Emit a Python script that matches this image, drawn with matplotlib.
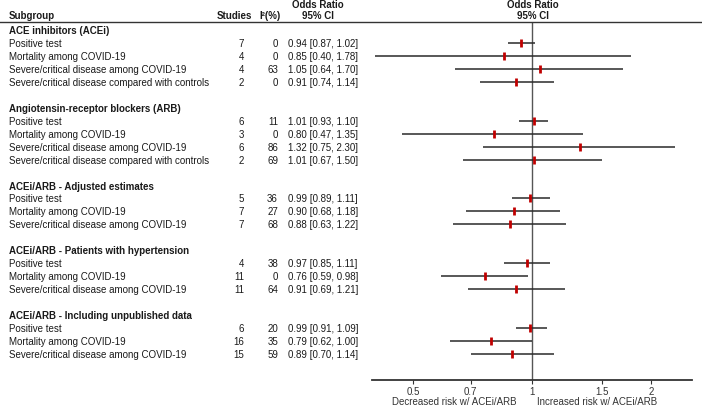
import matplotlib
matplotlib.use("Agg")
import matplotlib.pyplot as plt
import matplotlib.transforms as mtransforms

plt.rcParams['font.family'] = ['Liberation Sans', 'DejaVu Sans']

groups = [
    "ACE inhibitors (ACEi)",
    "Angiotensin-receptor blockers (ARB)",
    "ACEi/ARB - Adjusted estimates",
    "ACEi/ARB - Patients with hypertension",
    "ACEi/ARB - Including unpublished data",
]
labels = [
    ["Positive test", "Mortality among COVID-19", "Severe/critical disease among COVID-19",
     "Severe/critical disease compared with controls"],
    ["Positive test", "Mortality among COVID-19", "Severe/critical disease among COVID-19",
     "Severe/critical disease compared with controls"],
    ["Positive test", "Mortality among COVID-19", "Severe/critical disease among COVID-19"],
    ["Positive test", "Mortality among COVID-19", "Severe/critical disease among COVID-19"],
    ["Positive test", "Mortality among COVID-19", "Severe/critical disease among COVID-19"],
]
studies = [[7, 4, 4, 2], [6, 3, 6, 2], [5, 7, 7], [4, 11, 11], [6, 16, 15]]
i2 = [[0, 0, 63, 0], [11, 0, 86, 69], [36, 27, 68], [38, 0, 64], [20, 35, 59]]
odds = [[0.94, 0.85, 1.05, 0.91], [1.01, 0.80, 1.32, 1.01], [0.99, 0.90, 0.88],
        [0.97, 0.76, 0.91], [0.99, 0.79, 0.89]]
lower = [[0.87, 0.40, 0.64, 0.74], [0.93, 0.47, 0.75, 0.67], [0.89, 0.68, 0.63],
         [0.85, 0.59, 0.69], [0.91, 0.62, 0.70]]
upper = [[1.02, 1.78, 1.70, 1.14], [1.10, 1.35, 2.30, 1.50], [1.11, 1.18, 1.22],
         [1.11, 0.98, 1.21], [1.09, 1.00, 1.14]]
ticks = [0.5, 0.7, 1, 1.5, 2]
tick_labels = ["0.5", "0.7", "1", "1.5", "2"]

W, H = 702, 406
fig = plt.figure(figsize=(W / 100, H / 100), dpi=100)
ax = fig.add_axes([372 / W, (H - 381) / H, 320 / W, (381 - 22.5) / H])
ax.set_xscale('log')
ax.set_xlim(0.394, 2.54)
ax.set_ylim(27, -0.65)

trans = mtransforms.blended_transform_factory(fig.transFigure, ax.transData)
fs = 7
txt = '#1a1a1a'

row = 0
for g in range(len(groups)):
    fig.text(9 / W, row, groups[g], transform=trans, fontsize=fs, fontweight='bold',
             va='center', ha='left', color=txt)
    row += 1
    for k in range(len(labels[g])):
        fig.text(9 / W, row, labels[g][k], transform=trans, fontsize=fs, va='center', color=txt)
        fig.text(244 / W, row, str(studies[g][k]), transform=trans, fontsize=fs,
                 va='center', ha='right', color=txt)
        fig.text(278 / W, row, str(i2[g][k]), transform=trans, fontsize=fs,
                 va='center', ha='right', color=txt)
        fig.text(288 / W, row, f"{odds[g][k]:.2f} [{lower[g][k]:.2f}, {upper[g][k]:.2f}]",
                 transform=trans, fontsize=fs, va='center', ha='left', color=txt)
        ax.plot([lower[g][k], upper[g][k]], [row, row], color='#2a2a2a', lw=1.1,
                solid_capstyle='butt', zorder=2)
        ax.plot([odds[g][k]], [row], marker='|', color='#c00000', markersize=6,
                mew=2, zorder=3)
        row += 1
    row += 1

ax.axvline(1, color='#555555', lw=1, zorder=1)

# headers
fig.text(9 / W, 1 - 16 / H, "Subgroup", fontsize=fs, fontweight='bold', va='center', color=txt)
fig.text(234 / W, 1 - 16 / H, "Studies", fontsize=fs, fontweight='bold', va='center',
         ha='center', color=txt)
fig.text(270 / W, 1 - 16 / H, "I²(%)", fontsize=fs, fontweight='bold', va='center',
         ha='center', color=txt)
for cx in (318, 533):
    fig.text(cx / W, 1 - 5 / H, "Odds Ratio", fontsize=fs, fontweight='bold', va='center',
             ha='center', color=txt)
    fig.text(cx / W, 1 - 16 / H, "95% CI", fontsize=fs, fontweight='bold', va='center',
             ha='center', color=txt)
fig.add_artist(plt.Line2D([0, 1], [1 - 22.5 / H, 1 - 22.5 / H], transform=fig.transFigure,
                          color='#333333', lw=1))

for s in ['top', 'left', 'right']:
    ax.spines[s].set_visible(False)
ax.spines['bottom'].set_linewidth(1.3)
ax.spines['bottom'].set_color('#333333')
ax.set_yticks([])
ax.set_xticks(ticks)
ax.set_xticklabels(tick_labels)
ax.minorticks_off()
ax.tick_params(axis='x', direction='out', length=3, width=0.8, pad=1, labelsize=fs,
               colors='#333333')
ax.patch.set_alpha(0)

fig.text(517 / W, 1 - 402 / H, "Decreased risk w/ ACEi/ARB", fontsize=fs, ha='right',
         va='center', color='#333333')
fig.text(537 / W, 1 - 402 / H, "Increased risk w/ ACEi/ARB", fontsize=fs, ha='left',
         va='center', color='#333333')

fig.savefig("out.png", dpi=100)
